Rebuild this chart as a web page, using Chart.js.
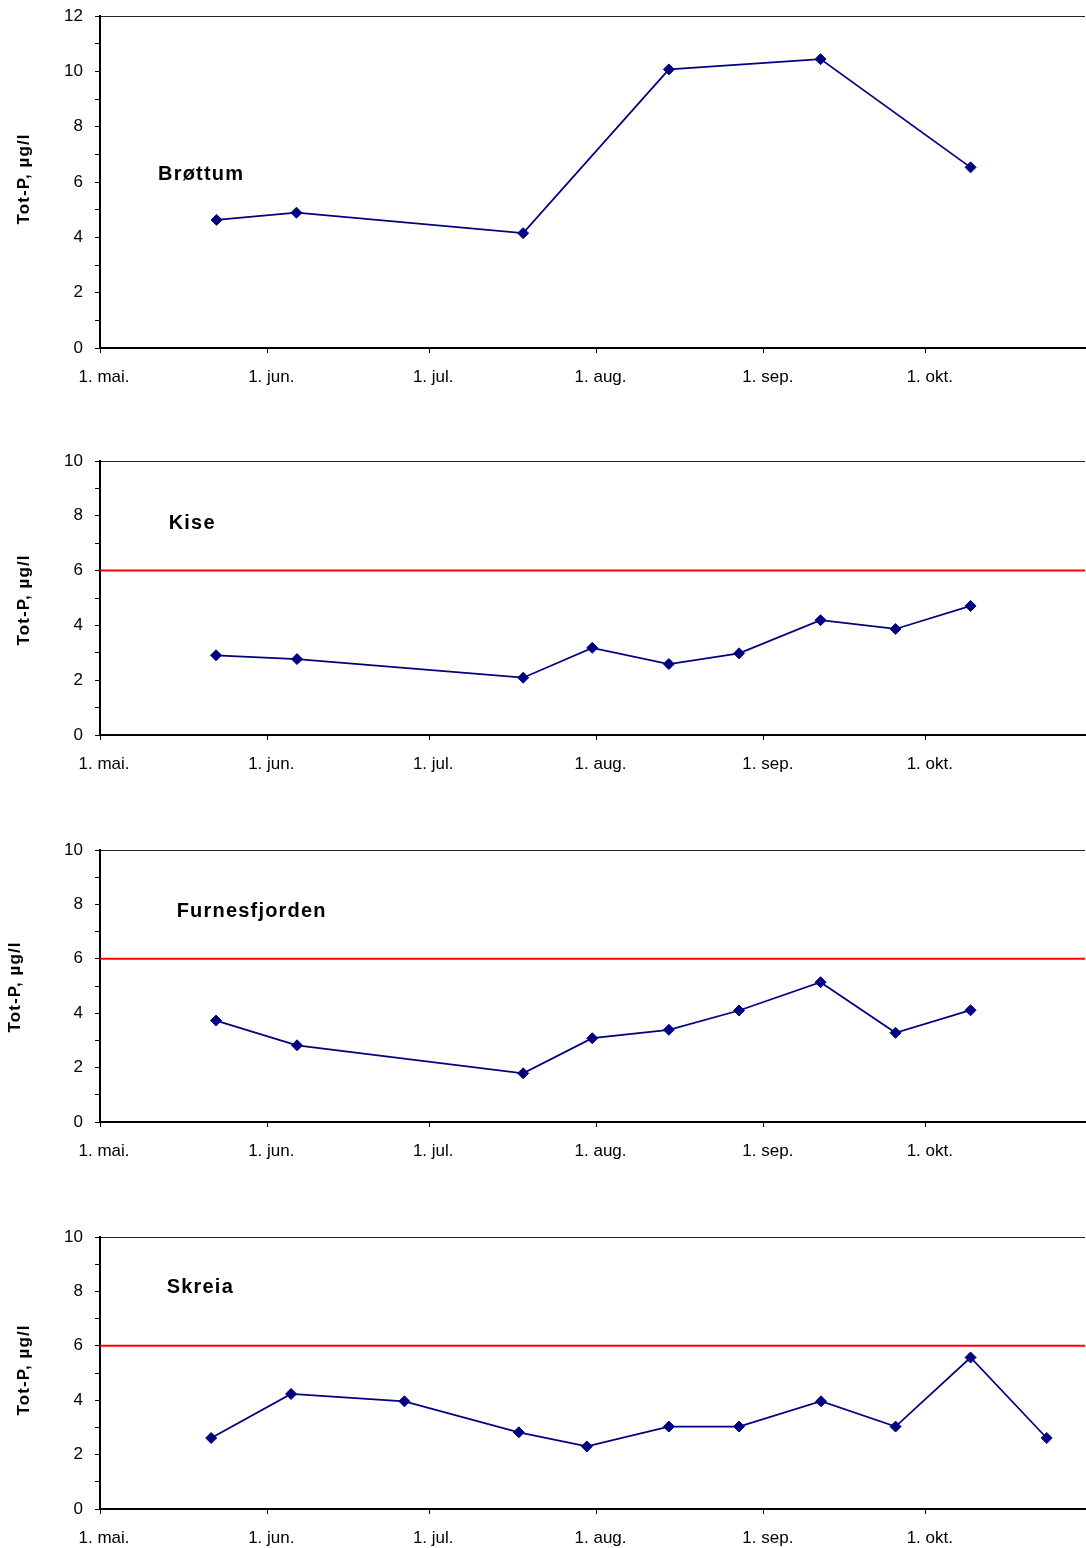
<!DOCTYPE html>
<html><head><meta charset="utf-8">
<script src="https://cdn.jsdelivr.net/npm/chart.js@4.4.0/dist/chart.umd.min.js"></script>
<style>
html,body{margin:0;padding:0;background:#fff;width:1086px;height:1548px;overflow:hidden;position:relative}
canvas{position:absolute;left:0}
</style></head><body>
<canvas id="c1" width="1086" height="400" style="top:0px"></canvas>
<canvas id="c2" width="1086" height="340" style="top:445px"></canvas>
<canvas id="c3" width="1086" height="338" style="top:834px"></canvas>
<canvas id="c4" width="1086" height="327" style="top:1221px"></canvas>
<script>
// ---- data (x = days after 1. mai) ----
const monthDays   = [0, 31, 61, 92, 123, 153];
const monthLabels = ['1. mai.', '1. jun.', '1. jul.', '1. aug.', '1. sep.', '1. okt.'];
const axisTitle   = 'Tot-P, µg/l';
const stationNames = ['Brøttum', 'Kise', 'Furnesfjorden', 'Skreia'];
const limitValue  = 6;
const xMax = 182.5;

const brottumDays = [21.6, 36.4, 78.4, 105.4, 133.5, 161.3];
const brottumTotP = [4.63, 4.89, 4.15, 10.07, 10.44, 6.53];

const kiseDays = [21.5, 36.5, 78.4, 91.2, 105.4, 118.4, 133.5, 147.4, 161.3];
const kiseTotP = [2.91, 2.77, 2.09, 3.18, 2.59, 2.98, 4.19, 3.87, 4.71];

const furnesDays = [21.5, 36.5, 78.4, 91.2, 105.4, 118.4, 133.5, 147.4, 161.3];
const furnesTotP = [3.73, 2.82, 1.79, 3.08, 3.39, 4.10, 5.14, 3.28, 4.11];

const skreiaDays = [20.6, 35.4, 56.4, 77.6, 90.2, 105.4, 118.4, 133.6, 147.4, 161.3, 175.4];
const skreiaTotP = [2.61, 4.23, 3.96, 2.82, 2.30, 3.03, 3.03, 3.96, 3.03, 5.57, 2.61];

// ---- layout ----
const panels = [
  {id:'c1', name:stationNames[0], days:brottumDays, vals:brottumTotP, yMax:12, limit:false, xAxisH:52, nameDx:58, nameDy:164, axX:28.5, axY:179},
  {id:'c2', name:stationNames[1], days:kiseDays,    vals:kiseTotP,    yMax:10, limit:true,  xAxisH:50, nameDx:68.7, nameDy:68, axX:29.3, axY:155},
  {id:'c3', name:stationNames[2], days:furnesDays,  vals:furnesTotP,  yMax:10, limit:true,  xAxisH:50, nameDx:76.7, nameDy:67.3, axX:20, axY:153},
  {id:'c4', name:stationNames[3], days:skreiaDays,  vals:skreiaTotP,  yMax:10, limit:true,  xAxisH:39, nameDx:66.7, nameDy:55.7, axX:29, axY:149}
];

const FONT = '"Liberation Sans", Arial, sans-serif';
Chart.defaults.font.family = FONT;
Chart.defaults.font.size = 17;
Chart.defaults.color = '#000';

const panelText = {
  id: 'panelText',
  afterDraw(chart, args, o) {
    const {ctx, chartArea} = chart;
    ctx.save();
    ctx.fillStyle = '#000';
    ctx.textAlign = 'left';
    ctx.textBaseline = 'alphabetic';
    ctx.font = 'bold 20px ' + FONT;
    ctx.letterSpacing = '1.2px';
    ctx.fillText(o.name, chartArea.left + o.nameDx, chartArea.top + o.nameDy);
    ctx.font = 'bold 17px ' + FONT;
    ctx.letterSpacing = '1.1px';
    ctx.translate(o.axX, o.axY);
    ctx.rotate(-Math.PI / 2);
    ctx.textAlign = 'center';
    ctx.fillText(axisTitle, 0, 0);
    ctx.restore();
  }
};

panels.forEach(p => {
  const datasets = [];
  if (p.limit) {
    datasets.push({
      data: [{x: 0, y: limitValue}, {x: xMax, y: limitValue}],
      borderColor: '#ff0000', borderWidth: 2, pointRadius: 0, fill: false
    });
  }
  datasets.push({
    data: p.days.map((d, i) => ({x: d, y: p.vals[i]})),
    borderColor: '#000080', backgroundColor: '#000080',
    borderWidth: 1.75, pointStyle: 'rectRot', pointRadius: 5.5,
    pointBorderWidth: 1, pointBorderColor: '#000080', fill: false, tension: 0
  });
  new Chart(document.getElementById(p.id), {
    type: 'line',
    data: {datasets},
    options: {
      responsive: false, animation: false, devicePixelRatio: 1,
      layout: {autoPadding: false, padding: {top: 16, left: 0, right: 1, bottom: 0}},
      plugins: {legend: {display: false}, tooltip: {enabled: false},
        panelText: {name: p.name, nameDx: p.nameDx, nameDy: p.nameDy, axX: p.axX, axY: p.axY}},
      scales: {
        x: {
          type: 'linear', min: 0, max: xMax,
          afterBuildTicks: s => { s.ticks = monthDays.map(v => ({value: v})); },
          afterFit: s => { s.height = p.xAxisH; s.paddingLeft = 0; s.paddingRight = 0; },
          ticks: {callback: (v, i) => monthLabels[i], padding: 14, labelOffset: 4,
                  maxRotation: 0, autoSkip: false, color: '#000', font: {size: 17}},
          grid: {drawOnChartArea: false, drawTicks: true, tickLength: 5, tickColor: '#000', tickWidth: 1},
          border: {color: '#000', width: 2}
        },
        y: {
          min: 0, max: p.yMax,
          afterFit: s => { s.width = 100; s.paddingTop = 0; s.paddingBottom = 0; },
          ticks: {stepSize: 1, autoSkip: false, padding: 12, color: '#000', font: {size: 17},
                  callback: v => (v % 2 === 0 ? String(v) : '')},
          grid: {drawOnChartArea: true,
                 color: c => (c.tick && c.tick.value === p.yMax) ? '#222' : 'rgba(0,0,0,0)',
                 lineWidth: 1, tickColor: '#000', tickLength: 5, tickWidth: 1},
          border: {color: '#000', width: 2}
        }
      }
    },
    plugins: [panelText]
  });
});
</script>
</body></html>
